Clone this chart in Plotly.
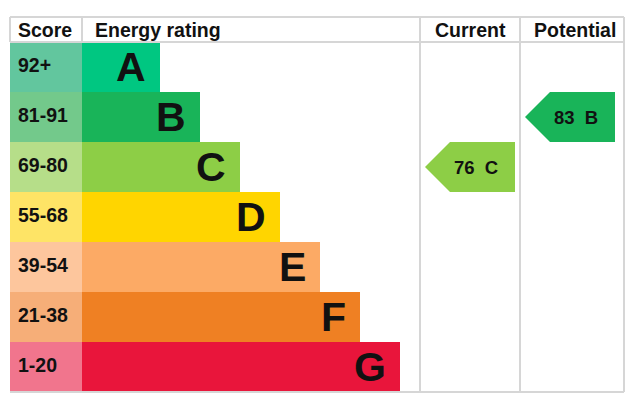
import plotly.graph_objects as go

bands = ['A', 'B', 'C', 'D', 'E', 'F', 'G']
scores = ['92+', '81-91', '69-80', '55-68', '39-54', '21-38', '1-20']
band_min = [92, 81, 69, 55, 39, 21, 1]
bar_colors = ['#00c781', '#19b459', '#8dce46', '#ffd500', '#fcaa65', '#ef8023', '#e9153b']
cell_colors = ['#62c69e', '#73c98b', '#b6de89', '#fee466', '#fdc69d', '#f6ae78', '#f1758d']
current = 76
potential = 83

# page body has an 8px margin, so the axes are offset to line up with the window
off = 8
W, H = 633 - 2 * off, 404 - 2 * off
left, top, right, bottom = 10, 17, 624, 392
head_h = 25
row_h = 50
score_w = 72
bar0 = left + score_w
cols = [420, 520, 624]
grid = '#d6d6d6'
font = 'Liberation Sans, Arial, sans-serif'

rows = [top + head_h + row_h * i + row_h / 2 for i in range(len(bands))]
lengths = [78 + 40 * i for i in range(len(bands))]


def band_of(v):
    for i, m in enumerate(band_min):
        if v >= m:
            return i
    return len(bands) - 1


fig = go.Figure()
fig.add_trace(go.Bar(orientation='h', y=rows, x=[score_w] * len(bands), base=left,
                     width=row_h, marker=dict(color=cell_colors, line=dict(width=0)),
                     hoverinfo='skip'))
fig.add_trace(go.Bar(orientation='h', y=rows, x=lengths, base=bar0,
                     width=row_h, marker=dict(color=bar_colors, line=dict(width=0)),
                     hoverinfo='skip'))

ann = []
for i in range(len(bands)):
    ann.append(dict(x=left + 6, y=rows[i] - 2, text='<b>%s</b>' % scores[i], showarrow=False,
                    xanchor='left', yanchor='middle', font=dict(size=19.5, color='#111')))
    ann.append(dict(x=bar0 + lengths[i] - 12, y=rows[i], text='<b>%s</b>' % bands[i], showarrow=False,
                    xanchor='right', yanchor='middle', font=dict(size=41, color='#111')))

# arrows for current / potential
for val, c0 in [(current, cols[0]), (potential, cols[1])]:
    i = band_of(val)
    y0, y1 = rows[i] - row_h / 2, rows[i] + row_h / 2
    xs = [c0 + 5, c0 + 30, c0 + 95, c0 + 95, c0 + 30, c0 + 5]
    ys = [rows[i], y0, y0, y1, y1, rows[i]]
    fig.add_trace(go.Scatter(x=xs, y=ys, fill='toself', fillcolor=bar_colors[i], mode='lines',
                             line=dict(width=0, color=bar_colors[i]), hoverinfo='skip'))
    ann.append(dict(x=c0 + 80, y=rows[i], text='<b>%d&nbsp;&nbsp;%s</b>' % (val, bands[i]), showarrow=False,
                    xanchor='right', yanchor='middle', font=dict(size=18.5, color='#111')))

hy = top + head_h / 2
ann.append(dict(x=left + 6, y=hy, text='<b>Score</b>', showarrow=False, xanchor='left', font=dict(size=19.5, color='#111')))
ann.append(dict(x=bar0 + 11, y=hy, text='<b>Energy rating</b>', showarrow=False, xanchor='left', font=dict(size=19.5, color='#111')))
ann.append(dict(x=(cols[0] + cols[1]) / 2, y=hy, text='<b>Current</b>', showarrow=False, font=dict(size=19.5, color='#111')))
ann.append(dict(x=(cols[1] + cols[2]) / 2 + 3, y=hy, text='<b>Potential</b>', showarrow=False, font=dict(size=19.5, color='#111')))

ln = dict(color=grid, width=2)
shapes = [
    dict(type='line', x0=left, x1=right, y0=top, y1=top, line=ln),
    dict(type='line', x0=left, x1=right, y0=top + head_h, y1=top + head_h, line=ln),
    dict(type='line', x0=left, x1=right, y0=bottom, y1=bottom, line=ln),
    dict(type='line', x0=left, x1=left, y0=top, y1=top + head_h, line=ln),
    dict(type='line', x0=bar0, x1=bar0, y0=top, y1=top + head_h, line=ln),
]
for c in cols:
    shapes.append(dict(type='line', x0=c, x1=c, y0=top, y1=bottom, line=ln, layer='below'))

fig.update_layout(
    width=W, height=H, margin=dict(l=0, r=0, t=0, b=0),
    paper_bgcolor='white', plot_bgcolor='white', showlegend=False,
    barmode='overlay', bargap=0,
    font=dict(family=font),
    xaxis=dict(range=[off, off + W], visible=False, fixedrange=True),
    yaxis=dict(range=[off + H, off], visible=False, fixedrange=True),
    shapes=shapes, annotations=ann,
)
fig.write_html("out.html", config={'displayModeBar': False})
